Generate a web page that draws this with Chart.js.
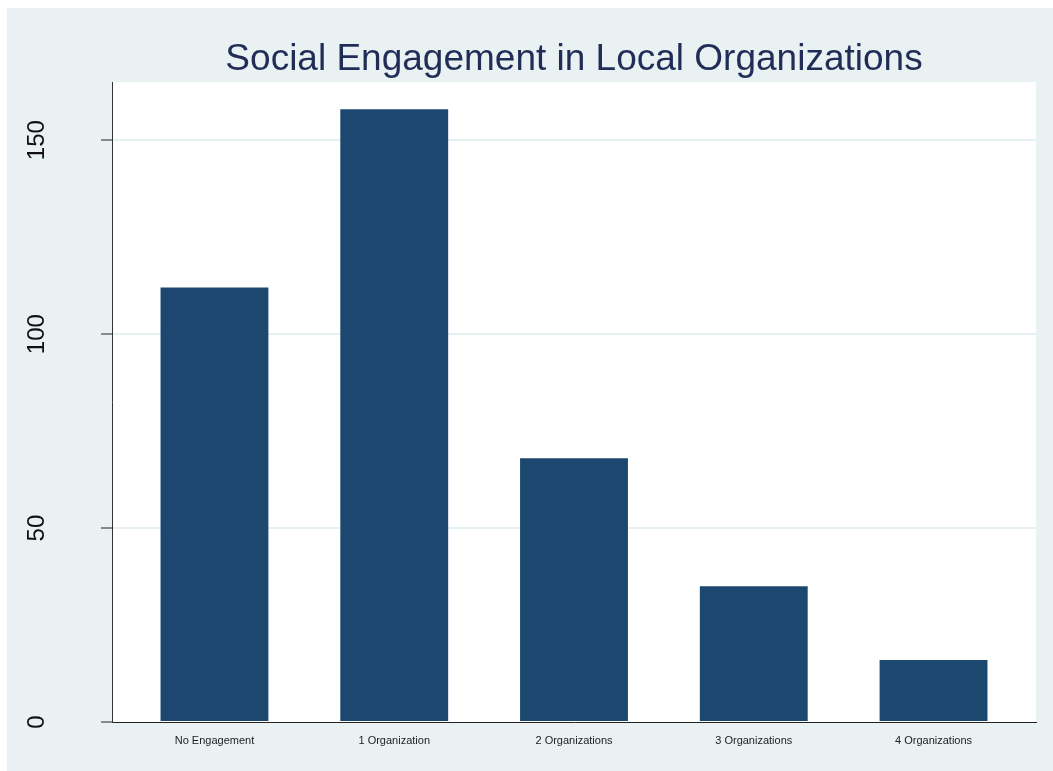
<!DOCTYPE html>
<html>
<head>
<meta charset="utf-8">
<script src="https://cdn.jsdelivr.net/npm/chart.js@4/dist/chart.umd.min.js"></script>
<style>
  html, body { margin: 0; padding: 0; background: #eaf1f3; overflow: hidden; }
  #wrap { width: 1053px; height: 771px; position: relative; }
  canvas { display: block; }
</style>
</head>
<body>
<div id="wrap"><canvas id="chart" width="1053" height="771"></canvas></div>
<script>
// data
const TITLE = "Social Engagement in Local Organizations";
const categories = ["No Engagement", "1 Organization", "2 Organizations", "3 Organizations", "4 Organizations"];
const counts = [112, 158, 68, 35, 16];
const yTicks = [0, 50, 100, 150];

const PANEL_BG = "#eaf1f3";
const NAVY = "#1c476f";
const FONT = "'Liberation Sans', Arial, sans-serif";

// Stata-like panel + white plot region + title + rotated y labels
const stataLook = {
  id: "stataLook",
  beforeDraw(chart){
    const { ctx, chartArea: a } = chart;
    ctx.save();
    ctx.fillStyle = PANEL_BG;
    ctx.fillRect(0, 0, chart.width, chart.height);
    ctx.fillStyle = "#fff";
    ctx.fillRect(0, 0, chart.width, 8);
    ctx.fillRect(0, 0, 7, chart.height);
    ctx.fillRect(a.left, a.top, a.right - a.left, a.bottom - a.top);
    ctx.restore();
  },
  afterDraw(chart){
    const { ctx, chartArea: a } = chart;
    const y = chart.scales.y;
    ctx.save();
    ctx.fillStyle = "#1f2d57";
    ctx.font = "37px " + FONT;
    ctx.textAlign = "center";
    ctx.textBaseline = "alphabetic";
    ctx.fillText(TITLE, (a.left + a.right) / 2, 70);

    ctx.fillStyle = "#111";
    ctx.font = "24px " + FONT;
    ctx.textBaseline = "middle";
    for (const v of yTicks){
      ctx.save();
      ctx.translate(37, y.getPixelForValue(v));
      ctx.rotate(-Math.PI / 2);
      ctx.fillText(String(v), 0, 0);
      ctx.restore();
    }
    ctx.restore();
  }
};

new Chart(document.getElementById("chart"), {
  type: "bar",
  data: {
    datasets: [{
      data: counts.map((v, i) => ({ x: i, y: v })),
      backgroundColor: NAVY,
      borderWidth: 0,
      barPercentage: 0.6,
      categoryPercentage: 1.0,
    }]
  },
  options: {
    responsive: false,
    animation: false,
    layout: { padding: { top: 82, right: 17, left: 0, bottom: 0 } },
    plugins: { legend: { display: false }, tooltip: { enabled: false }, title: { display: false } },
    scales: {
      x: {
        type: "linear",
        offset: false,
        min: -0.57,
        max: 4.57,
        afterBuildTicks: (s) => { s.ticks = categories.map((_, i) => ({ value: i })); },
        afterFit: (s) => { s.height = 49; },
        grid: { display: false, drawTicks: false, offset: false },
        border: { display: true, color: "#222", width: 1 },
        ticks: {
          callback: (v) => categories[v] ?? "",
          color: "#222",
          font: { family: FONT, size: 11 },
          padding: 12,
          maxRotation: 0,
          autoSkip: false,
        }
      },
      y: {
        min: 0,
        max: 165,
        afterBuildTicks: (s) => { s.ticks = yTicks.map(v => ({ value: v })); },
        afterFit: (s) => { s.width = 112; },
        grid: {
          color: (c) => c.tick && c.tick.value === 0 ? "rgba(0,0,0,0)" : "#e6eff2",
          lineWidth: 2,
          tickColor: "#222",
          tickWidth: 1,
          tickLength: 11,
          drawTicks: true,
        },
        border: { display: true, color: "#333", width: 1 },
        ticks: { display: false }
      }
    }
  },
  plugins: [stataLook]
});
</script>
</body>
</html>
